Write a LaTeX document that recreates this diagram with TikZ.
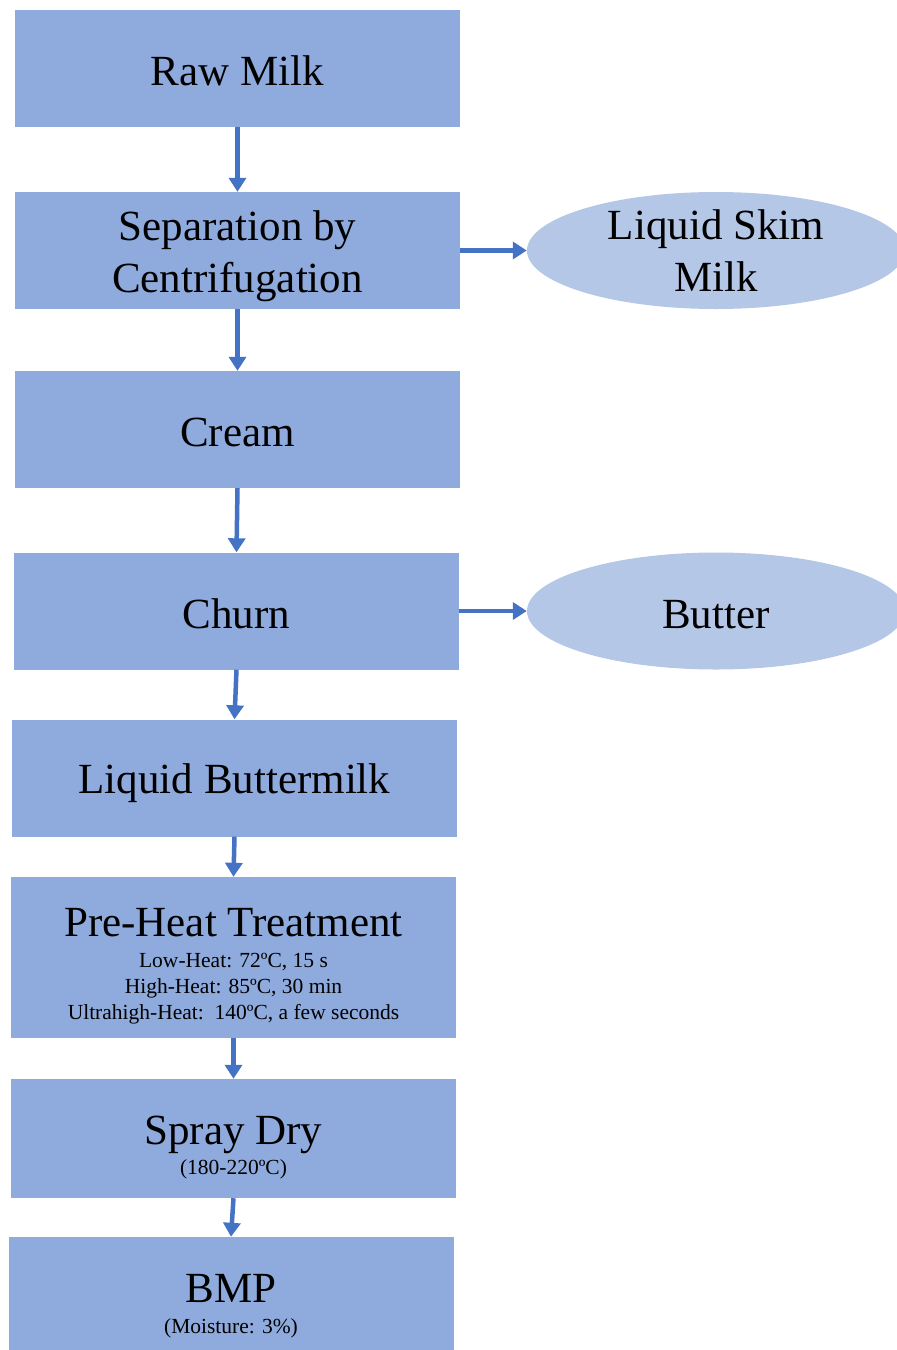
\documentclass[tikz,border=0pt]{standalone}
\usepackage{fontspec}
\setmainfont{Liberation Serif}
\usetikzlibrary{arrows.meta,shapes.geometric}
\definecolor{stagefill}{HTML}{8FAADC}
\definecolor{prodfill}{HTML}{B4C7E7}
\definecolor{flowblue}{HTML}{4472C4}
\newcommand{\bigtxt}{\fontsize{43}{52}\selectfont}
\newcommand{\smalltxt}{\fontsize{21.5}{26}\selectfont}
\newcommand{\tstrut}[1]{\rule{0pt}{#1}}
\tikzset{
	stage/.style={rectangle, fill=stagefill, minimum width=445pt, minimum height=117pt, inner sep=0pt, align=center, font=\bigtxt},
	product/.style={ellipse, fill=prodfill, minimum width=378pt, minimum height=117pt, inner xsep=0pt, inner ysep=-15pt, align=center, font=\bigtxt},
	flow/.style={draw=flowblue, line width=4.5pt, -{Triangle[width=17pt,length=14pt]}}
}

\begin{document}
\begin{tikzpicture}[x=1pt, y=-1pt]
		%%%%% START %%%%%
		\useasboundingbox (0,0) rectangle (897,1350);
		\clip (0,0) rectangle (897,1350);
		
		\node[stage] (raw) at (237.5, 68.5) {\tstrut{34pt}Raw Milk};
		\node[stage] (sep) at (237.5, 250.5) {\tstrut{42pt}Separation by\\Centrifugation};
		\node[stage] (cream) at (237.5, 429.5) {\tstrut{34pt}Cream};
		\node[stage] (churn) at (236.5, 611) {\tstrut{36pt}Churn};
		\node[stage] (bmilk) at (234.5, 778) {\tstrut{40pt}Liquid Buttermilk};
		\node[stage, minimum height=161pt] (preheat) at (233.5, 957.5) {\tstrut{45pt}Pre-Heat Treatment\\[-21pt]
			\smalltxt Low-Heat: 72ºC, 15 s\\[-26pt]
			\smalltxt High-Heat: 85ºC, 30 min\\[-26pt]
			\smalltxt Ultrahigh-Heat:\ \ 140ºC, a few seconds};
		\node[stage, minimum height=119pt] (spray) at (233.5, 1138.5) {\tstrut{46pt}Spray Dry\\[-22pt]\smalltxt (180-220ºC)};
		\node[stage, minimum height=120pt] (bmp) at (231, 1297) {\tstrut{47pt}BMP\\[-21pt]\smalltxt (Moisture: 3\%)};
		
		% side products
		\node[product] (skim) at (716, 250.5) {Liquid Skim\\Milk};
		\node[product] (butter) at (716, 611) {\tstrut{36pt}Butter};
		
		% main line
		\draw[flow] (raw.south) -- (sep.north);
		\draw[flow] (sep.south) -- (cream.north);
		\draw[flow] (cream.south) -- (churn.north);
		\draw[flow] (churn.south) -- (bmilk.north);
		\draw[flow] (bmilk.south) -- (preheat.north);
		\draw[flow] (preheat.south) -- (spray.north);
		\draw[flow] (spray.south) -- (bmp.north);
		
		\draw[flow] (sep.east) -- (skim.west);
		\draw[flow] (churn.east) -- (butter.west);
		%%%%% END %%%%%
\end{tikzpicture}
\end{document}
